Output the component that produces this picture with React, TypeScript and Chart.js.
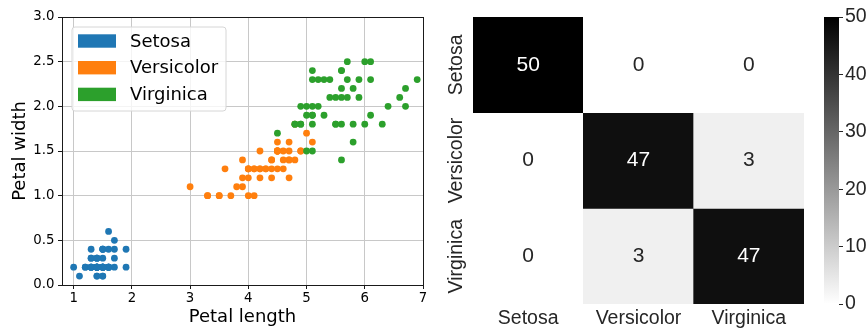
import React, { useEffect, useRef } from "react";
import { Chart, registerables } from "chart.js";
Chart.register(...registerables);

const speciesNames = ["Setosa", "Versicolor", "Virginica"];
const speciesColors = ["#1f77b4", "#ff7f0e", "#2ca02c"];

const setosaLength = [1.4, 1.4, 1.3, 1.5, 1.4, 1.7, 1.4, 1.5, 1.4, 1.5, 1.5, 1.6, 1.4, 1.1, 1.2, 1.5, 1.3, 1.4, 1.7, 1.5, 1.7, 1.5, 1.0, 1.7, 1.9, 1.6, 1.6, 1.5, 1.4, 1.6, 1.6, 1.5, 1.5, 1.4, 1.5, 1.2, 1.3, 1.4, 1.3, 1.5, 1.3, 1.3, 1.3, 1.6, 1.9, 1.4, 1.6, 1.4, 1.5, 1.4];
const setosaWidth = [0.2, 0.2, 0.2, 0.2, 0.2, 0.4, 0.3, 0.2, 0.2, 0.1, 0.2, 0.2, 0.1, 0.1, 0.2, 0.4, 0.4, 0.3, 0.3, 0.3, 0.2, 0.4, 0.2, 0.5, 0.2, 0.2, 0.4, 0.2, 0.2, 0.2, 0.2, 0.4, 0.1, 0.2, 0.2, 0.2, 0.2, 0.1, 0.2, 0.2, 0.3, 0.3, 0.2, 0.6, 0.4, 0.3, 0.2, 0.2, 0.2, 0.2];
const versicolorLength = [4.7, 4.5, 4.9, 4.0, 4.6, 4.5, 4.7, 3.3, 4.6, 3.9, 3.5, 4.2, 4.0, 4.7, 3.6, 4.4, 4.5, 4.1, 4.5, 3.9, 4.8, 4.0, 4.9, 4.7, 4.3, 4.4, 4.8, 5.0, 4.5, 3.5, 3.8, 3.7, 3.9, 5.1, 4.5, 4.5, 4.7, 4.4, 4.1, 4.0, 4.4, 4.6, 4.0, 3.3, 4.2, 4.2, 4.2, 4.3, 3.0, 4.1];
const versicolorWidth = [1.4, 1.5, 1.5, 1.3, 1.5, 1.3, 1.6, 1.0, 1.3, 1.4, 1.0, 1.5, 1.0, 1.4, 1.3, 1.4, 1.5, 1.0, 1.5, 1.1, 1.8, 1.3, 1.5, 1.2, 1.3, 1.4, 1.4, 1.7, 1.5, 1.0, 1.1, 1.0, 1.2, 1.6, 1.5, 1.6, 1.5, 1.3, 1.3, 1.3, 1.2, 1.4, 1.2, 1.0, 1.3, 1.2, 1.3, 1.3, 1.1, 1.3];
const virginicaLength = [6.0, 5.1, 5.9, 5.6, 5.8, 6.6, 4.5, 6.3, 5.8, 6.1, 5.1, 5.3, 5.5, 5.0, 5.1, 5.3, 5.5, 6.7, 6.9, 5.0, 5.7, 4.9, 6.7, 4.9, 5.7, 6.0, 4.8, 4.9, 5.6, 5.8, 6.1, 6.4, 5.6, 5.1, 5.6, 6.1, 5.6, 5.5, 4.8, 5.4, 5.6, 5.1, 5.1, 5.9, 5.7, 5.2, 5.0, 5.2, 5.4, 5.1];
const virginicaWidth = [2.5, 1.9, 2.1, 1.8, 2.2, 2.1, 1.7, 1.8, 1.8, 2.5, 2.0, 1.9, 2.1, 2.0, 2.4, 2.3, 1.8, 2.2, 2.3, 1.5, 2.3, 2.0, 2.0, 1.8, 2.1, 1.8, 1.8, 1.8, 2.1, 1.6, 1.9, 2.0, 2.2, 1.5, 1.4, 2.3, 2.4, 1.8, 1.8, 2.1, 2.4, 2.3, 1.9, 2.3, 2.5, 2.3, 1.9, 2.0, 2.3, 1.8];

const xTicks = [1, 2, 3, 4, 5, 6, 7];
const yTicks = [0, 0.5, 1, 1.5, 2, 2.5, 3];

const confusion = [
  [50, 0, 0],
  [0, 47, 3],
  [0, 3, 47],
];
const colorbarTicks = [0, 10, 20, 30, 40, 50];
const colorMax = 50;

const DEJAVU = "'DejaVu Sans', sans-serif";
const ARIAL = "'Liberation Sans', Arial, sans-serif";
const SEA_TEXT = "#262626";

function grayFor(v: number) {
  const g = Math.round(255 * (1 - v / colorMax));
  return `rgb(${g},${g},${g})`;
}

function align(p: number) {
  return Math.round(p - 0.5) + 0.5;
}

const framePlugin = {
  id: "frameLegend",
  afterDraw(chart: any) {
    const { ctx, chartArea: a } = chart;
    ctx.save();
    // full axes frame
    const l = align(a.left), r = align(a.right), t = align(a.top), b = align(a.bottom);
    ctx.strokeStyle = "#1a1a1a";
    ctx.lineWidth = 1;
    ctx.strokeRect(l, t, r - l, b - t);
    // legend
    const bx = a.left + 10, by = a.top + 10, bw = 154, bh = 84, rad = 3;
    ctx.beginPath();
    ctx.moveTo(bx + rad, by);
    ctx.arcTo(bx + bw, by, bx + bw, by + bh, rad);
    ctx.arcTo(bx + bw, by + bh, bx, by + bh, rad);
    ctx.arcTo(bx, by + bh, bx, by, rad);
    ctx.arcTo(bx, by, bx + bw, by, rad);
    ctx.closePath();
    ctx.fillStyle = "rgba(255,255,255,0.8)";
    ctx.fill();
    ctx.strokeStyle = "#d6d6d6";
    ctx.stroke();
    chart.data.datasets.forEach((ds: any, i: number) => {
      const cy = by + 14 + i * 26.7;
      ctx.fillStyle = ds.backgroundColor;
      ctx.fillRect(bx + 6, cy - 6.7, 38, 13.4);
      ctx.fillStyle = "#000";
      ctx.font = `18px ${DEJAVU}`;
      ctx.textAlign = "left";
      ctx.textBaseline = "middle";
      ctx.fillText(ds.label, bx + 58, cy + 1);
    });
    ctx.restore();
  },
};

const annotatePlugin = {
  id: "annotate",
  afterDatasetsDraw(chart: any) {
    const { ctx } = chart;
    ctx.save();
    ctx.font = `21px ${ARIAL}`;
    ctx.textAlign = "center";
    ctx.textBaseline = "middle";
    chart.data.datasets.forEach((ds: any, r: number) => {
      const meta = chart.getDatasetMeta(r);
      meta.data.forEach((el: any, c: number) => {
        const { x, y, base } = el.getProps(["x", "y", "base"], true);
        const v = confusion[r][c];
        ctx.fillStyle = v / colorMax > 0.5 ? "#ffffff" : SEA_TEXT;
        ctx.fillText(String(v), x, (y + base) / 2);
      });
    });
    // row labels, rotated, placed with the y scale
    const ys = chart.scales.y;
    ctx.font = `19.5px ${ARIAL}`;
    ctx.fillStyle = SEA_TEXT;
    speciesNames.forEach((name, r) => {
      const py = ys.getPixelForValue(r + 0.5);
      ctx.save();
      ctx.translate(chart.chartArea.left - 16, py);
      ctx.rotate(-Math.PI / 2);
      ctx.fillText(name, 0, 0);
      ctx.restore();
    });
    ctx.restore();
  },
};

export default function App() {
  const scatterRef = useRef<HTMLCanvasElement | null>(null);
  const heatRef = useRef<HTMLCanvasElement | null>(null);
  const barRef = useRef<HTMLCanvasElement | null>(null);

  useEffect(() => {
    const lengths = [setosaLength, versicolorLength, virginicaLength];
    const widths = [setosaWidth, versicolorWidth, virginicaWidth];

    const scatter = new Chart(scatterRef.current as HTMLCanvasElement, {
      type: "scatter",
      data: {
        datasets: speciesNames.map((name, i) => ({
          label: name,
          data: lengths[i].map((x, k) => ({ x, y: widths[i][k] })),
          backgroundColor: speciesColors[i],
          borderWidth: 0,
          pointRadius: 3.4,
          pointHoverRadius: 3.4,
          order: 2 - i,
        })),
      },
      options: {
        animation: false,
        responsive: false,
        events: [],
        layout: { padding: { left: 0, right: 17, top: 17, bottom: 0 } },
        plugins: { legend: { display: false }, tooltip: { enabled: false } },
        scales: {
          x: {
            type: "linear",
            min: 0.8,
            max: 7,
            afterBuildTicks: (axis: any) => {
              axis.ticks = xTicks.map((v) => ({ value: v }));
            },
            afterFit: (s: any) => {
              s.height = 43;
            },
            grid: { color: "#c8c8c8", lineWidth: 1, tickColor: "#1a1a1a", tickLength: 4 },
            border: { display: false },
            ticks: {
              font: { family: DEJAVU, size: 13.3 },
              color: "#000",
              padding: 2,
              maxRotation: 0,
              autoSkip: false,
              callback: (v: any) => String(v),
            },
            title: {
              display: true,
              text: "Petal length",
              font: { family: DEJAVU, size: 18 },
              color: "#000",
              padding: { top: 0, bottom: 0 },
            },
          },
          y: {
            type: "linear",
            min: 0,
            max: 3,
            afterBuildTicks: (axis: any) => {
              axis.ticks = yTicks.map((v) => ({ value: v }));
            },
            afterFit: (s: any) => {
              s.width = 62;
            },
            grid: { color: "#c8c8c8", lineWidth: 1, tickColor: "#1a1a1a", tickLength: 4 },
            border: { display: false },
            ticks: {
              font: { family: DEJAVU, size: 13.3 },
              color: "#000",
              padding: 3.5,
              autoSkip: false,
              callback: (v: any) => Number(v).toFixed(1),
            },
            title: {
              display: true,
              text: "Petal width",
              font: { family: DEJAVU, size: 18 },
              color: "#000",
              padding: { top: 9.5, bottom: 0 },
            },
          },
        },
      },
      plugins: [framePlugin],
    } as any);

    const heat = new Chart(heatRef.current as HTMLCanvasElement, {
      type: "bar",
      data: {
        labels: speciesNames,
        datasets: confusion.map((row, r) => ({
          label: speciesNames[r],
          data: row.map(() => [r, r + 1]),
          backgroundColor: row.map(grayFor),
          borderWidth: 0,
          barPercentage: 1,
          categoryPercentage: 1,
          grouped: false,
        })),
      },
      options: {
        animation: false,
        responsive: false,
        events: [],
        layout: { padding: { left: 33, right: 6, top: 17, bottom: 0 } },
        plugins: { legend: { display: false }, tooltip: { enabled: false } },
        scales: {
          x: {
            type: "category",
            grid: { display: false, drawTicks: false },
            border: { display: false },
            afterFit: (s: any) => {
              s.height = 24;
            },
            ticks: {
              font: { family: ARIAL, size: 19.5 },
              color: SEA_TEXT,
              padding: 3,
              maxRotation: 0,
              autoSkip: false,
            },
          },
          y: {
            type: "linear",
            min: 0,
            max: 3,
            reverse: true,
            display: false,
          },
        },
      },
      plugins: [annotatePlugin],
    } as any);

    const bar = new Chart(barRef.current as HTMLCanvasElement, {
      type: "bar",
      data: {
        labels: [""],
        datasets: [
          {
            label: "scale",
            data: [[colorbarTicks[0], colorMax]],
            backgroundColor: (c: any) => {
              const ch = c.chart;
              const ys = ch.scales && ch.scales.y;
              if (!ys || !ch.chartArea) return "#888";
              const g = ch.ctx.createLinearGradient(0, ys.getPixelForValue(0), 0, ys.getPixelForValue(colorMax));
              g.addColorStop(0, "#ffffff");
              g.addColorStop(1, "#000000");
              return g;
            },
            borderWidth: 0,
            barPercentage: 1,
            categoryPercentage: 1,
          },
        ],
      },
      options: {
        animation: false,
        responsive: false,
        events: [],
        layout: { padding: { left: 20, right: 0, top: 17, bottom: 24 } },
        plugins: { legend: { display: false }, tooltip: { enabled: false } },
        scales: {
          x: { display: false },
          y: {
            type: "linear",
            position: "right",
            min: 0,
            max: colorMax,
            afterBuildTicks: (axis: any) => {
              axis.ticks = colorbarTicks.map((v) => ({ value: v }));
            },
            afterFit: (s: any) => {
              s.width = 29;
            },
            grid: { drawOnChartArea: false, drawTicks: true, tickLength: 4, tickColor: SEA_TEXT, lineWidth: 1 },
            border: { display: false },
            ticks: {
              font: { family: ARIAL, size: 19.5 },
              color: SEA_TEXT,
              padding: 2,
              autoSkip: false,
            },
          },
        },
      },
    } as any);

    return () => {
      scatter.destroy();
      heat.destroy();
      bar.destroy();
    };
  }, []);

  return (
    <div style={{ position: "fixed", left: 0, top: 0, width: 868, height: 328, background: "#fff", overflow: "hidden" }}>
      <canvas ref={scatterRef} width={440} height={328} style={{ position: "absolute", left: 0, top: 0, width: 440, height: 328 }} />
      <canvas ref={heatRef} width={370} height={328} style={{ position: "absolute", left: 440, top: 0, width: 370, height: 328 }} />
      <canvas ref={barRef} width={64} height={328} style={{ position: "absolute", left: 804, top: 0, width: 64, height: 328 }} />
    </div>
  );
}
